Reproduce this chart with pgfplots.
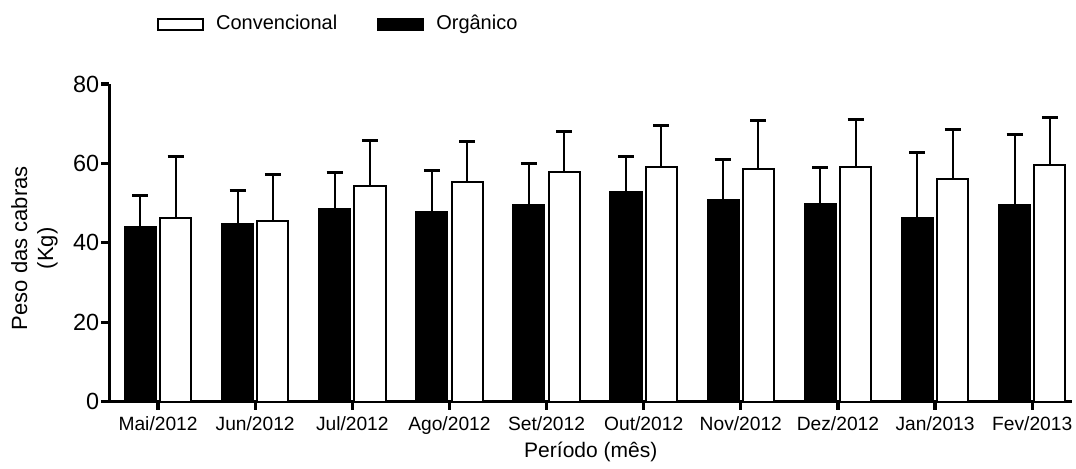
\documentclass[border=0pt]{standalone}
\usepackage{pgfplots}
\pgfplotsset{compat=1.18}
\usepackage{pgfplotstable}
\usepackage{fontspec}
\setmainfont{Liberation Sans}
\pgfplotstableread{
x y e
0 44.1 7.8
1 44.7 8.4
2 48.6 9.0
3 47.7 10.4
4 49.6 10.3
5 52.9 8.9
6 50.9 10.2
7 49.8 9.3
8 46.2 16.6
9 49.6 17.8
}\organico
\pgfplotstableread{
x y e
0 46.3 15.5
1 45.6 11.5
2 54.3 11.6
3 55.4 10.1
4 57.9 10.2
5 59.2 10.3
6 58.7 12.2
7 59.2 11.8
8 56.0 12.5
9 59.7 11.8
}\convencional
\begin{document}
\begin{tikzpicture}
\begin{axis}[
  name=ax,
  scale only axis,
  width=481.25pt, height=158.85pt,
  xmin=-0.5, xmax=9.41,
  ymin=0, ymax=80,
  ytick={0,20,40,60,80},
  xtick={0,...,9},
  xticklabels={Mai/2012,Jun/2012,Jul/2012,Ago/2012,Set/2012,Out/2012,Nov/2012,Dez/2012,Jan/2013,Fev/2013},
  axis x line*=bottom, axis y line*=left,
  axis line style={-, line width=1.6pt},
  x axis line style={-}, y axis line style={-},
  tick align=outside,
  major tick length=4pt,
  tick style={line width=1.6pt, black},
  /pgf/number format/assume math mode=true,
  xticklabel style={font=\fontsize{9.6}{11}\selectfont, inner sep=1pt, yshift=-2pt},
  yticklabel style={font=\fontsize{11.7}{13}\selectfont, inner sep=1pt},
  xlabel={Período (mês)},
  xlabel style={font=\fontsize{10.5}{12}\selectfont, at={(axis description cs:0.5,-0.176)}, anchor=base, inner sep=0pt},
  ylabel={Peso das cabras\\(Kg)},
  ylabel style={font=\fontsize{11}{13}\selectfont, align=center, at={(axis description cs:-0.0535,0.483)}, anchor=south, inner sep=0pt},
  ybar,
  bar width=0.32,
  reverse legend,
  legend columns=2,
  legend style={draw=none, fill=none, inner sep=0pt, at={(axis description cs:0,1)}, anchor=west, xshift=23.6pt, yshift=30pt,
    font=\fontsize{10}{12}\selectfont,
    /tikz/every odd column/.append style={column sep=4pt},
    /tikz/every even column/.append style={column sep=18pt}},
  legend image code/.code={\draw[#1, line width=1pt] (0pt,-2.75pt) rectangle (22.5pt,2.75pt);},
]
\addplot[fill=black, draw=black, line width=1pt, bar shift=-0.182,
  error bars/.cd, y dir=plus, y explicit,
  error mark=|,
  error bar style={line width=1pt, black},
  error mark options={line width=1.5pt, mark size=4pt, black}]
  table[x=x, y=y, y error=e]{\organico};
\addlegendentry{Orgânico}
\addplot[fill=white, draw=black, line width=1pt, bar shift=0.182,
  error bars/.cd, y dir=plus, y explicit,
  error mark=|,
  error bar style={line width=1pt, black},
  error mark options={line width=1.5pt, mark size=4pt, black}]
  table[x=x, y=y, y error=e]{\convencional};
\addlegendentry{Convencional}
\end{axis}
\path (ax.south west) ++(-54.75pt,-33.15pt) rectangle ++(538pt,234pt);
\end{tikzpicture}
\end{document}
